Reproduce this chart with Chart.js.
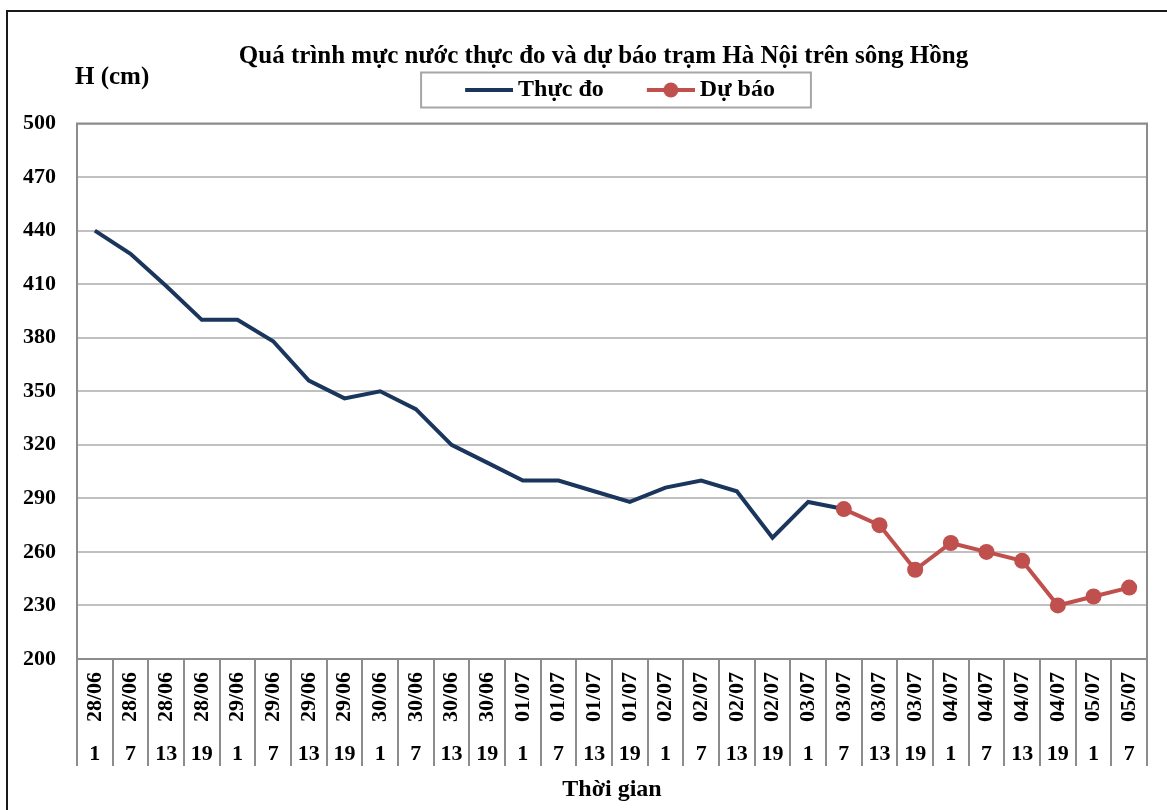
<!DOCTYPE html>
<html>
<head>
<meta charset="utf-8">
<script src="https://cdn.jsdelivr.net/npm/chart.js@4.4.1/dist/chart.umd.min.js"></script>
<style>
html,body{margin:0;padding:0;background:#fff;}
#wrap{position:relative;width:1167px;height:810px;overflow:hidden;background:#fff;}
#frame{position:absolute;left:6px;top:10px;width:1300px;height:900px;border-left:2px solid #1a1a1a;border-top:2px solid #1a1a1a;}
#c{position:absolute;left:0;top:0;}
#hcm{position:absolute;left:75px;top:61px;font:bold 25px "Liberation Serif";line-height:30px;color:#000;white-space:nowrap;}
</style>
</head>
<body>
<div id="wrap">
  <div id="frame"></div>
  <canvas id="c" width="1167" height="810"></canvas>
  <div id="hcm">H (cm)</div>
</div>
<script>
// ---- data ----
const dates = ['28/06','28/06','28/06','28/06','29/06','29/06','29/06','29/06',
               '30/06','30/06','30/06','30/06','01/07','01/07','01/07','01/07',
               '02/07','02/07','02/07','02/07','03/07','03/07','03/07','03/07',
               '04/07','04/07','04/07','04/07','05/07','05/07'];
const hours = ['1','7','13','19','1','7','13','19','1','7','13','19','1','7','13','19',
               '1','7','13','19','1','7','13','19','1','7','13','19','1','7'];
const observed = [440, 427, 409, 390, 390, 378, 356, 346, 350, 340, 320, 310, 300, 300, 294, 288,
                  296, 300, 294, 268, 288, 284, null, null, null, null, null, null, null, null];
const forecast = [null, null, null, null, null, null, null, null, null, null, null, null, null, null, null, null,
                  null, null, null, null, null, 284, 275, 250, 265, 260, 255, 230, 235, 240];
const yMin = 200, yMax = 500, yStep = 30;
const seriesNames = ['Thực đo', 'Dự báo'];

const NAVY = '#1B365D';
const RED = '#C0504D';

function makeIcon(color, marker) {
  const c = document.createElement('canvas');
  c.width = 88; c.height = 18;
  const g = c.getContext('2d');
  g.strokeStyle = color; g.lineWidth = 4;
  g.beginPath(); g.moveTo(40, 9); g.lineTo(88, 9); g.stroke();
  if (marker) { g.fillStyle = color; g.beginPath(); g.arc(64, 9, 7.5, 0, Math.PI * 2); g.fill(); }
  return c;
}
const icons = [makeIcon(NAVY, false), makeIcon(RED, true)];

const framePlugin = {
  id: 'frames',
  beforeDatasetsDraw(chart) {
    const {ctx, chartArea: a} = chart;
    ctx.save();
    ctx.strokeStyle = '#8c8c8c'; ctx.lineWidth = 2;
    ctx.strokeRect(a.left, a.top, a.right - a.left, a.bottom - a.top);
    ctx.restore();
  },
  afterDraw(chart) {
    const lg = chart.legend; const hb = lg && lg.legendHitBoxes;
    if (!hb || !hb.length) return;
    const ctx = chart.ctx;
    const first = hb[0], last = hb[hb.length - 1];
    const left = first.left + 33 - 44;
    const right = last.left + last.width + 36;
    const mid = first.top + first.height / 2;
    ctx.save();
    ctx.strokeStyle = '#a6a6a6'; ctx.lineWidth = 2;
    ctx.strokeRect(left, mid - 17.5, right - left, 35);
    ctx.restore();
  }
};

Chart.defaults.font.family = '"Liberation Serif", "Times New Roman", serif';
Chart.defaults.color = '#000';

new Chart(document.getElementById('c'), {
  type: 'line',
  data: {
    labels: dates,
    datasets: [
      { label: seriesNames[0], data: observed, borderColor: NAVY, backgroundColor: NAVY,
        borderWidth: 4, pointRadius: 0, pointHoverRadius: 0, tension: 0, order: 1 },
      { label: seriesNames[1], data: forecast, borderColor: RED, backgroundColor: RED,
        borderWidth: 4, pointRadius: 8, pointBorderWidth: 0, pointBackgroundColor: RED,
        pointStyle: 'circle', tension: 0, order: 0 }
    ]
  },
  options: {
    responsive: false,
    animation: false,
    devicePixelRatio: 1,
    layout: { padding: { left: 60, right: 20, top: 0, bottom: 0 } },
    plugins: {
      title: { display: true, text: 'Quá trình mực nước thực đo và dự báo trạm Hà Nội trên sông Hồng',
               color: '#000', font: { size: 25, weight: 'bold' }, padding: { top: 42, bottom: -4 } },
      subtitle: { display: true, text: '', weight: 500, font: { size: 10, lineHeight: 1 },
                  padding: { top: 0, bottom: 1.5 } },
      legend: {
        display: true, position: 'top', align: 'center',
        labels: {
          usePointStyle: true, pointStyleWidth: 74, padding: 10, color: '#000',
          font: { size: 24, weight: 'bold' },
          generateLabels: (chart) => chart.data.datasets.map((ds, i) => ({
            text: ds.label, datasetIndex: i, pointStyle: icons[i],
            fillStyle: ds.borderColor, strokeStyle: ds.borderColor, lineWidth: 0,
            hidden: false, fontColor: '#000'
          }))
        }
      },
      tooltip: { enabled: false }
    },
    scales: {
      x: {
        type: 'category', position: 'bottom', offset: true,
        grid: { offset: true, drawOnChartArea: false, drawTicks: true, tickLength: 76, color: '#8c8c8c', lineWidth: 2 },
        border: { display: true, color: '#8c8c8c', width: 2 },
        ticks: { autoSkip: false, minRotation: 90, maxRotation: 90, padding: -63, color: '#000',
                 font: { size: 22, weight: 'bold' } },
        afterFit: (s) => { s.height = 76; }
      },
      x2: {
        type: 'category', labels: hours, position: 'bottom', offset: true,
        grid: { offset: true, drawOnChartArea: false, drawTicks: true, tickLength: 31, color: '#8c8c8c', lineWidth: 2 },
        border: { display: false },
        ticks: { autoSkip: false, minRotation: 0, maxRotation: 0, padding: -25, color: '#000',
                 font: { size: 22, weight: 'bold' } },
        title: { display: true, text: 'Thời gian', color: '#000', font: { size: 24, weight: 'bold' },
                 padding: { top: 0, bottom: 6 } },
        afterFit: (s) => { s.height = 75; }
      },
      y: {
        min: yMin, max: yMax,
        ticks: { stepSize: yStep, mirror: true, crossAlign: 'near', padding: -54, color: '#000',
                 font: { size: 22, weight: 'bold' } },
        grid: { color: '#c0c0c0', lineWidth: 2, drawTicks: false },
        border: { display: true, color: '#8c8c8c', width: 2 },
        afterFit: (s) => { s.width = 17; }
      }
    }
  },
  plugins: [framePlugin]
});
</script>
</body>
</html>
